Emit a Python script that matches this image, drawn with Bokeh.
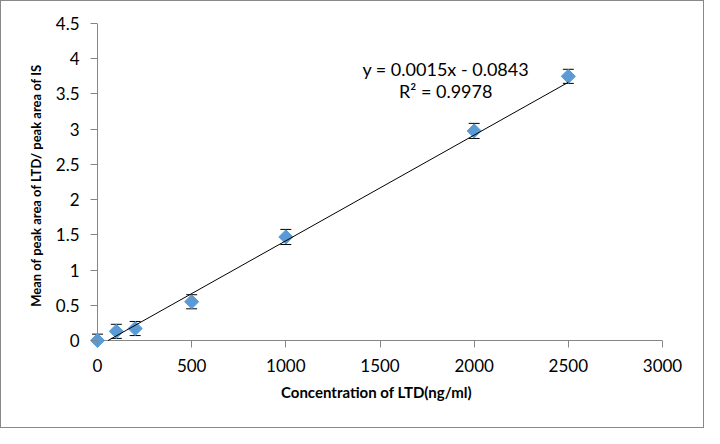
import math
from bokeh.plotting import figure
from bokeh.models import ColumnDataSource, Whisker, TeeHead, Range1d, FixedTicker, Label
from bokeh.embed import file_html
from bokeh.resources import INLINE

conc = [0, 100, 200, 500, 1000, 2000, 2500]
ratio = [0.0, 0.13, 0.17, 0.55, 1.47, 2.975, 3.75]
err = [0.09, 0.1, 0.1, 0.1, 0.107, 0.107, 0.1]
slope = 0.0015
intercept = -0.0843
eq_text = "y = 0.0015x - 0.0843"
r2_text = "R\u00b2 = 0.9978"
x_ticks = [0, 500, 1000, 1500, 2000, 2500, 3000]
y_ticks = [0, 0.5, 1, 1.5, 2, 2.5, 3, 3.5, 4, 4.5]
X_MIN, X_MAX = 0, 3000
Y_MIN, Y_MAX = 0, 4.5

FONT = "Lato"
AXIS_COLOR = "#868686"

# layout (pixels)
W, H = 704, 428
AX_LEFT, AX_RIGHT, AX_TOP, AX_BOTTOM = 96, 661, 22, 339  # axis box in figure px
PAD = 7  # extra frame (= tick length) so markers at the origin are not clipped
plot_w = AX_RIGHT - AX_LEFT
plot_h = AX_BOTTOM - AX_TOP
x_start = X_MIN - PAD * (X_MAX - X_MIN) / plot_w
y_start = Y_MIN - PAD * (Y_MAX - Y_MIN) / plot_h

src = ColumnDataSource(dict(
    x=conc, y=ratio,
    lo=[max(v - e, Y_MIN) for v, e in zip(ratio, err)],
    hi=[v + e for v, e in zip(ratio, err)],
))

p = figure(width=W, height=H, output_backend="svg", toolbar_location=None,
           x_range=Range1d(x_start, X_MAX), y_range=Range1d(y_start, Y_MAX),
           min_border_left=AX_LEFT - PAD, min_border_right=W - AX_RIGHT,
           min_border_top=AX_TOP, min_border_bottom=H - AX_BOTTOM - PAD)
p.styles = {"border": "1px solid #888888", "box-sizing": "border-box"}
p.outline_line_color = None
p.xgrid.grid_line_color = None
p.ygrid.grid_line_color = None

for ax in (p.xaxis[0], p.yaxis[0]):
    ax.axis_line_color = None
    ax.major_tick_line_color = AXIS_COLOR
    ax.minor_tick_line_color = None
    ax.major_tick_in = PAD
    ax.major_tick_out = 0
    ax.major_label_text_font = FONT
    ax.major_label_text_font_size = "17px"
    ax.major_label_text_color = "#000000"
    ax.axis_label_text_font = FONT
    ax.axis_label_text_font_style = "bold"
    ax.axis_label_text_color = "#000000"

p.xaxis.ticker = FixedTicker(ticks=x_ticks)
p.yaxis.ticker = FixedTicker(ticks=y_ticks)
p.xaxis.major_label_standoff = 11
p.yaxis.major_label_standoff = 11
p.xaxis.axis_label = "Concentration of LTD(ng/ml)"
p.yaxis.axis_label = "Mean of peak area of LTD/ peak area of IS"
p.xaxis.axis_label_text_font_size = "15px"
p.yaxis.axis_label_text_font_size = "13px"
p.xaxis.axis_label_standoff = 8
p.yaxis.axis_label_standoff = 9

# axis lines at the data origin
p.segment(x0=[X_MIN, X_MIN], y0=[Y_MIN, Y_MIN], x1=[X_MAX, X_MIN], y1=[Y_MIN, Y_MAX],
          line_color=AXIS_COLOR, line_width=1, level="underlay")

wh = Whisker(source=src, base="x", upper="hi", lower="lo", line_color="#000000", line_width=1,
             upper_head=TeeHead(size=11, line_color="#000000", line_width=1),
             lower_head=TeeHead(size=11, line_color="#000000", line_width=1),
             level="underlay")
p.add_layout(wh)

p.scatter("x", "y", source=src, marker="square", size=10, angle=math.pi / 4,
          fill_color="#5B9BD5", line_color="#5B9BD5")

# linear trend line, starting where it crosses the x axis
tx0 = max(min(conc), (Y_MIN - intercept) / slope)
tx1 = max(conc)
p.line([tx0, tx1], [slope * tx0 + intercept, slope * tx1 + intercept],
       line_color="#000000", line_width=1)

p.add_layout(Label(x=1849, y=3.858, text=eq_text, text_align="center", text_baseline="middle",
                   text_font=FONT, text_font_size="18px", text_color="#000000"))
p.add_layout(Label(x=1849, y=3.548, text=r2_text, text_align="center", text_baseline="middle",
                   text_font=FONT, text_font_size="18px", text_color="#000000"))

open("out.html", "w").write(file_html(p, INLINE))
